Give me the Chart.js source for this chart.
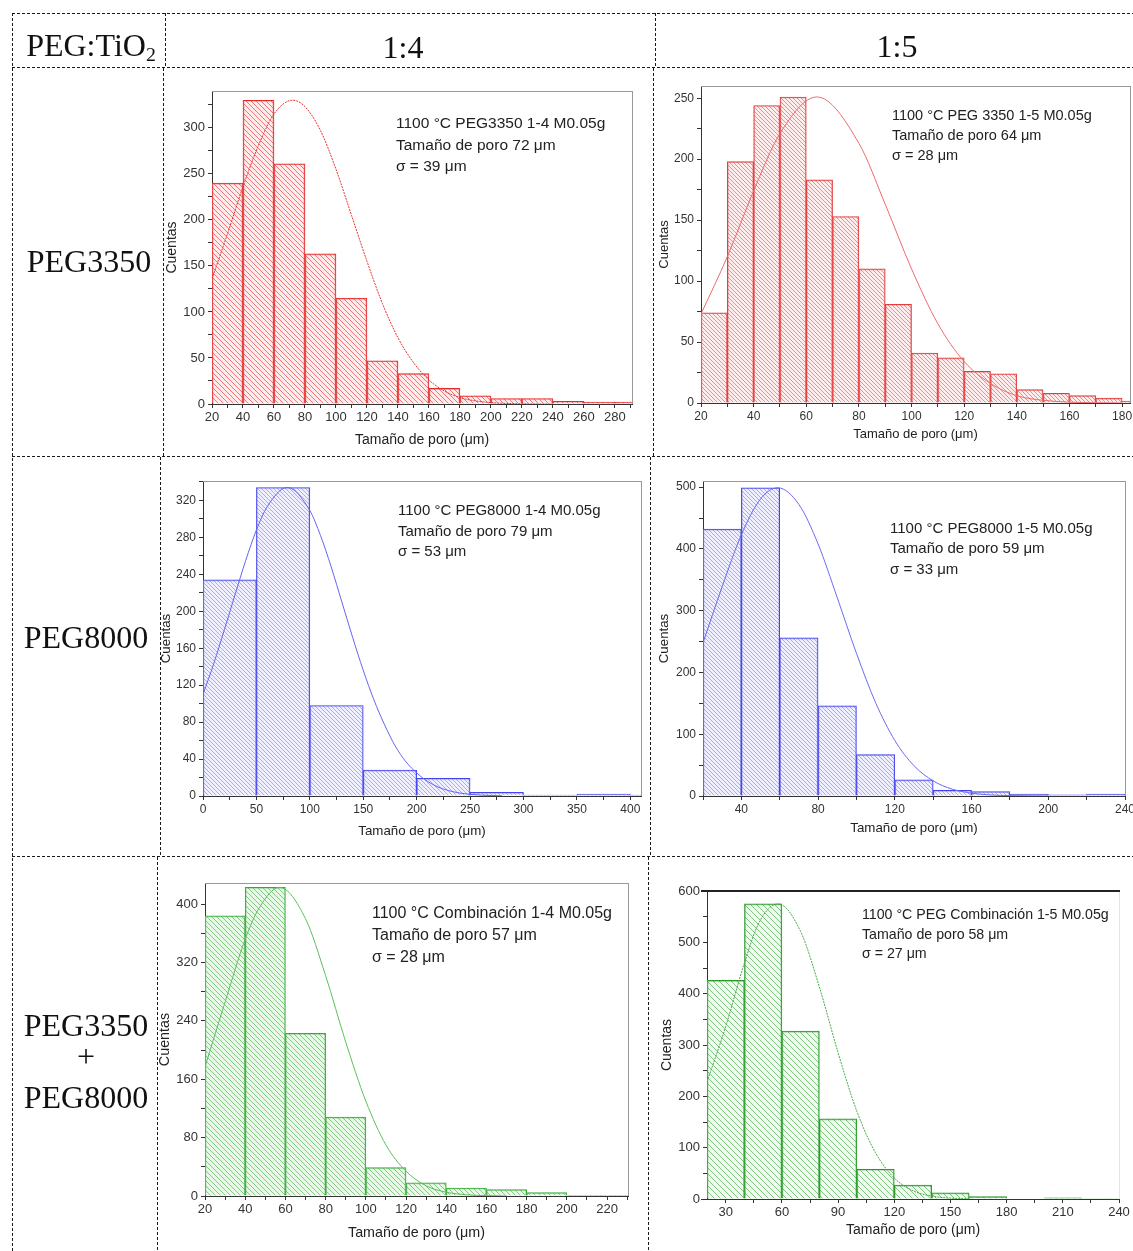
<!DOCTYPE html>
<html lang="es">
<head>
<meta charset="utf-8">
<title>Distribución de tamaño de poro</title>
<script src="https://cdn.jsdelivr.net/npm/chart.js@4.4.1/dist/chart.umd.min.js"></script>
<style>
  html, body { margin: 0; padding: 0; background: #fff; }
  #page { position: relative; width: 1133px; height: 1251px; overflow: hidden; background: #fff; }
  #grid { position: absolute; left: 0; top: 0; }
  canvas.hist { position: absolute; }
  .serif {
    position: absolute; font-family: "Liberation Serif", "DejaVu Serif", serif;
    font-size: 32px; line-height: 1; color: #111; white-space: nowrap;
    transform: translate(-50%, -50%);
  }
  .serif sub { font-size: 0.62em; vertical-align: -0.25em; line-height: 0; }
  .note { position: absolute; font-family: "Liberation Sans", Arial, sans-serif; color: #222; white-space: nowrap; }
</style>
</head>
<body>
<div id="page">
  <canvas id="grid" width="1133" height="1251"></canvas>

  <div class="serif" style="left:91px; top:45px;">PEG:TiO<sub>2</sub></div>
  <div class="serif" style="left:403px; top:47px;">1:4</div>
  <div class="serif" style="left:897px; top:46px;">1:5</div>

  <div class="serif" style="left:89px; top:261px;">PEG3350</div>
  <div class="serif" style="left:86px; top:637px;">PEG8000</div>
  <div class="serif" style="left:86px; top:1025px;">PEG3350</div>
  <div class="serif" style="left:86px; top:1056px;">+</div>
  <div class="serif" style="left:86px; top:1097px;">PEG8000</div>

  <canvas class="hist" id="c3350_14"></canvas>
  <canvas class="hist" id="c3350_15"></canvas>
  <canvas class="hist" id="c8000_14"></canvas>
  <canvas class="hist" id="c8000_15"></canvas>
  <canvas class="hist" id="cMix_14"></canvas>
  <canvas class="hist" id="cMix_15"></canvas>

  <div class="note" style="left:396px; top:112px; font-size:15.5px; line-height:21.5px;">1100 °C PEG3350 1-4 M0.05g<br>Tamaño de poro 72 μm<br>σ = 39 μm</div>
  <div class="note" style="left:892px; top:105px; font-size:14.5px; line-height:20px;">1100 °C PEG 3350 1-5 M0.05g<br>Tamaño de poro 64 μm<br>σ = 28 μm</div>
  <div class="note" style="left:398px; top:500px; font-size:15px; line-height:20.5px;">1100 °C PEG8000 1-4 M0.05g<br>Tamaño de poro 79 μm<br>σ = 53 μm</div>
  <div class="note" style="left:890px; top:518px; font-size:15px; line-height:20.3px;">1100 °C PEG8000 1-5 M0.05g<br>Tamaño de poro 59 μm<br>σ = 33 μm</div>
  <div class="note" style="left:372px; top:902px; font-size:16px; line-height:22px;">1100 °C Combinación 1-4 M0.05g<br>Tamaño de poro 57 μm<br>σ = 28 μm</div>
  <div class="note" style="left:862px; top:905px; font-size:14.2px; line-height:19.5px;">1100 °C PEG Combinación 1-5 M0.05g<br>Tamaño de poro 58 μm<br>σ = 27 μm</div>
</div>

<script>
// ---- data (bin start in µm, counts) and the fitted curves ----

// PEG3350, 1:4
const edges3350_14 = [20, 40, 60, 80, 100, 120, 140, 160, 180, 200, 220, 240, 260, 280];
const counts3350_14 = [240, 330, 261, 163, 115, 47, 33, 17, 9, 6, 6, 3, 2, 2];
const fitX3350_14 = [20, 30, 40, 50, 60, 72, 80, 90, 100, 110, 120, 130, 140, 150, 160, 170, 180, 190, 200, 210, 220, 230, 240];
const fitY3350_14 = [136, 185, 236, 281, 315, 330, 323, 297, 255, 205, 155, 109, 72, 45, 26, 14, 7, 3.4, 1.5, 0.6, 0.2, 0, 0];

// PEG3350, 1:5
const edges3350_15 = [20, 30, 40, 50, 60, 70, 80, 90, 100, 110, 120, 130, 140, 150, 160, 170, 180];
const counts3350_15 = [74, 198, 244, 251, 183, 153, 110, 81, 41, 37, 26, 24, 11, 8, 6, 4, 1.5];
const fitX3350_15 = [20, 30, 40, 50, 64, 80, 90, 100, 110, 120, 130, 140, 150, 160, 170, 180];
const fitY3350_15 = [73, 120, 174, 221, 251, 213, 163, 110, 65, 34, 16, 6, 2.2, 0.7, 0.2, 0];

// PEG8000, 1:4
const edges8000_14 = [0, 50, 100, 150, 200, 250, 300, 350, 400];
const counts8000_14 = [234, 334, 98, 28, 19, 4, 1, 2, 1];
const fitX8000_14 = [0, 10, 20, 30, 40, 50, 60, 79, 100, 110, 120, 130, 140, 150, 160, 170, 180, 190, 200, 210, 220, 230, 240, 250, 260, 270, 280];
const fitY8000_14 = [110, 143, 180, 218, 255, 288, 313, 334, 309, 282, 248, 210, 172, 136, 104, 77, 54, 37, 25, 16, 9.7, 5.8, 3.3, 1.8, 1, 0.5, 0.2];

// PEG8000, 1:5
const edges8000_15 = [20, 40, 60, 80, 100, 120, 140, 160, 180, 200, 220];
const counts8000_15 = [432, 499, 256, 146, 67, 26, 9, 7, 3, 2, 3];
const fitX8000_15 = [20, 30, 40, 50, 59, 70, 80, 90, 100, 110, 120, 130, 140, 150, 160, 170, 180, 190, 200];
const fitY8000_15 = [248, 339, 423, 481, 499, 472, 408, 321, 231, 151, 90, 49, 24.5, 11, 4.6, 1.7, 0.6, 0.2, 0];

// PEG3350 + PEG8000, 1:4
const edgesMix_14 = [20, 40, 60, 80, 100, 120, 140, 160, 180, 200, 220];
const countsMix_14 = [384, 423, 223, 108, 39, 18, 11, 8.7, 4.6, 1, 1];
const fitXMix_14 = [20, 30, 40, 47, 57, 70, 80, 90, 100, 110, 120, 130, 140, 150, 160, 170];
const fitYMix_14 = [177, 266, 352, 395, 423, 380, 302, 211, 130, 70, 34, 14, 5.2, 1.7, 0.5, 0];

// PEG3350 + PEG8000, 1:5
const edgesMix_15 = [20, 40, 60, 80, 100, 120, 140, 160, 180, 200, 220];
const countsMix_15 = [426, 575, 327, 156, 58, 27, 12, 4.5, 0, 2.5, 1];
const fitXMix_15 = [20, 30, 40, 48, 58, 70, 80, 90, 100, 110, 120, 130, 140, 150, 160];
const fitYMix_15 = [228, 336, 460, 540, 575, 521, 413, 285, 171, 90, 41, 16, 5.7, 1.7, 0.5];

const X_TITLE = 'Tamaño de poro (μm)';
const Y_TITLE = 'Cuentas';

// ---- layout / style per panel ----
const PAD_T = 12, PAD_R = 16;

const panels = [
  { id: 'c3350_14', edges: edges3350_14, bin: 20, counts: counts3350_14, fitX: fitX3350_14, fitY: fitY3350_14,
    xr: [20, 291], xMajor: 20, xMinor: 10, yr: [0, 340], yMajor: 50, yMinor: 25,
    plot: [212, 91, 632, 404], yOff: 40, xOff: 37, tick: 13, title: 14,
    edge: '#e22a2a', lines: 'rgba(232,50,50,0.62)', bg: 'rgba(255,222,222,0.6)', hs: 5,
    curve: '#e53030', dash: [2, 1], top: ['#999', 1], right: '#999' },
  { id: 'c3350_15', edges: edges3350_15, bin: 10, counts: counts3350_15, fitX: fitX3350_15, fitY: fitY3350_15,
    xr: [20, 183], xMajor: 20, xMinor: 10, yr: [0, 260], yMajor: 50, yMinor: 25,
    plot: [701, 86, 1130, 403], yOff: 36, xOff: 31, tick: 12, title: 13,
    edge: '#e63c3c', lines: 'rgba(235,70,70,0.58)', bg: 'rgba(255,225,225,0.6)', hs: 4,
    curve: '#f06a6a', dash: [], top: ['#999', 1], right: '#999' },
  { id: 'c8000_14', edges: edges8000_14, bin: 50, counts: counts8000_14, fitX: fitX8000_14, fitY: fitY8000_14,
    xr: [0, 410], xMajor: 50, xMinor: 25, yr: [0, 341], yMajor: 40, yMinor: 20,
    plot: [203, 481, 641, 796], yOff: 37, xOff: 35, tick: 12, title: 13.3,
    edge: '#4444f0', lines: 'rgba(95,95,245,0.48)', bg: 'rgba(232,232,255,0.7)', hs: 4,
    curve: '#6464f5', dash: [], top: ['#999', 1], right: '#999' },
  { id: 'c8000_15', edges: edges8000_15, bin: 20, counts: counts8000_15, fitX: fitX8000_15, fitY: fitY8000_15,
    xr: [20, 240], xMajor: 40, xMinor: 20, yr: [0, 510], yMajor: 100, yMinor: 50,
    plot: [703, 481, 1125, 796], yOff: 39, xOff: 32, tick: 12, title: 13.3,
    edge: '#4040ee', lines: 'rgba(90,90,245,0.48)', bg: 'rgba(232,232,255,0.7)', hs: 4,
    curve: '#6a6af5', dash: [], top: ['#999', 1], right: '#999' },
  { id: 'cMix_14', edges: edgesMix_14, bin: 20, counts: countsMix_14, fitX: fitXMix_14, fitY: fitYMix_14,
    xr: [20, 230.4], xMajor: 20, xMinor: 10, yr: [0, 429], yMajor: 80, yMinor: 40,
    plot: [205, 883, 628, 1196], yOff: 40, xOff: 37, tick: 13, title: 14.3,
    edge: '#35ac35', lines: 'rgba(60,175,60,0.6)', bg: 'rgba(222,245,222,0.65)', hs: 5,
    curve: '#5cc05c', dash: [], top: ['#999', 1], right: '#999' },
  { id: 'cMix_15', edges: edgesMix_15, bin: 20, counts: countsMix_15, fitX: fitXMix_15, fitY: fitYMix_15,
    xr: [20, 240], xMajor: 30, xMinor: 15, yr: [0, 600], yMajor: 100, yMinor: 50,
    plot: [707, 891, 1119, 1199], yOff: 40, xOff: 32, tick: 13, title: 14,
    edge: '#279a27', lines: 'rgba(50,160,50,0.6)', bg: 'rgba(228,246,228,0.55)', hs: 6,
    curve: '#45a845', dash: [2, 1], top: ['#222', 2], right: '#e4e4e4', extend: 6 }
];

Chart.defaults.font.family = '"Liberation Sans", Arial, sans-serif';
Chart.defaults.color = '#333';

// diagonal "\" hatch used for the bar fill
function hatch(line, fill, size) {
  const c = document.createElement('canvas');
  c.width = size;
  c.height = size;
  const g = c.getContext('2d');
  g.fillStyle = fill;
  g.fillRect(0, 0, size, size);
  g.strokeStyle = line;
  g.lineWidth = 1;
  g.beginPath();
  [-size, 0, size].forEach(k => {
    g.moveTo(k, 0);
    g.lineTo(k + size, size);
  });
  g.stroke();
  return g.createPattern(c, 'repeat');
}

// top / right edges of the plot frame
const framePlugin = {
  id: 'frame',
  afterDatasetsDraw(chart, args, opts) {
    const { ctx, chartArea: a } = chart;
    ctx.save();
    ctx.setLineDash([]);
    ctx.strokeStyle = opts.right;
    ctx.lineWidth = 1;
    ctx.beginPath();
    ctx.moveTo(a.right + 0.5, a.top);
    ctx.lineTo(a.right + 0.5, a.bottom);
    ctx.stroke();
    ctx.strokeStyle = opts.top[0];
    ctx.lineWidth = opts.top[1];
    const ty = opts.top[1] === 2 ? a.top : a.top + 0.5;
    ctx.beginPath();
    ctx.moveTo(a.left - (opts.extend || 0), ty);
    ctx.lineTo(a.right + 1, ty);
    ctx.stroke();
    if (opts.extend) {
      // x axis line runs a little past the y axis
      ctx.strokeStyle = '#333';
      ctx.lineWidth = 1;
      ctx.beginPath();
      ctx.moveTo(a.left - opts.extend, a.bottom + 0.5);
      ctx.lineTo(a.left, a.bottom + 0.5);
      ctx.stroke();
    }
    ctx.restore();
  }
};

function drawTable() {
  const g = document.getElementById('grid').getContext('2d');
  g.strokeStyle = '#1a1a1a';
  g.lineWidth = 1;
  g.setLineDash([3, 2]);
  const seg = (x0, y0, x1, y1) => {
    g.beginPath();
    g.moveTo(x0, y0);
    g.lineTo(x1, y1);
    g.stroke();
  };
  // horizontal rules
  [13.5, 67.5, 456.5, 856.5].forEach(y => seg(12, y, 1133, y));
  // outer left edge
  seg(12.5, 13, 12.5, 1251);
  // column separators, slightly drifting per row as in the scan
  const left = [[165.5, 13, 68], [163.5, 68, 457], [160.5, 457, 857], [157.5, 857, 1251]];
  const mid = [[655.5, 13, 68], [653.5, 68, 457], [650.5, 457, 857], [648.5, 857, 1251]];
  left.concat(mid).forEach(([x, y0, y1]) => seg(x, y0, x, y1));
}

function buildPanel(p) {
  const [l, t, r, b] = p.plot;
  const W = Math.round(p.yOff + p.title * 0.6);
  const H = Math.round(p.xOff + p.title * 0.6);
  const canvas = document.getElementById(p.id);
  canvas.width = (r - l) + W + PAD_R;
  canvas.height = (b - t) + PAD_T + H;
  canvas.style.left = (l - W) + 'px';
  canvas.style.top = (t - PAD_T) + 'px';

  const pxPerUnit = (r - l) / (p.xr[1] - p.xr[0]);
  const bars = p.edges.map((e, i) => ({ x: e + p.bin / 2, y: p.counts[i] }));
  const fit = p.fitX.map((x, i) => ({ x, y: p.fitY[i] }));

  const tickOpts = (size) => ({
    autoSkip: false, maxRotation: 0, minRotation: 0, includeBounds: false,
    color: '#333', font: { size }
  });

  new Chart(canvas, {
    type: 'bar',
    data: {
      datasets: [
        {
          type: 'line', data: fit, borderColor: p.curve, borderWidth: 1, borderDash: p.dash,
          pointRadius: 0, cubicInterpolationMode: 'monotone', fill: false, clip: 0, order: 0
        },
        {
          type: 'bar', data: bars, backgroundColor: hatch(p.lines, p.bg, p.hs),
          borderColor: p.edge, borderWidth: 1, barThickness: p.bin * pxPerUnit,
          clip: 0, order: 1
        }
      ]
    },
    options: {
      responsive: false,
      animation: false,
      events: [],
      layout: { padding: { left: 0, top: PAD_T, right: PAD_R, bottom: 0 } },
      plugins: {
        legend: { display: false },
        tooltip: { enabled: false },
        frame: { top: p.top, right: p.right, extend: p.extend || 0 }
      },
      scales: {
        x: {
          type: 'linear', min: p.xr[0], max: p.xr[1], offset: false,
          afterFit: s => { s.height = H; },
          grid: { display: true, offset: false, drawOnChartArea: false, drawTicks: true, tickLength: 4, tickColor: '#333' },
          border: { display: true, color: '#333', width: 1 },
          ticks: Object.assign(tickOpts(p.tick), {
            stepSize: p.xMinor, padding: 2,
            callback: v => (v % p.xMajor === 0 ? String(v) : '')
          }),
          title: { display: true, text: X_TITLE, color: '#222', font: { size: p.title, lineHeight: 1.2 }, padding: 0 }
        },
        y: {
          type: 'linear', min: p.yr[0], max: p.yr[1],
          afterFit: s => { s.width = W; },
          grid: { display: true, drawOnChartArea: false, drawTicks: true, tickLength: 4, tickColor: '#333' },
          border: { display: true, color: '#333', width: 1 },
          ticks: Object.assign(tickOpts(p.tick), {
            stepSize: p.yMinor, padding: 3,
            callback: v => (v % p.yMajor === 0 ? String(v) : '')
          }),
          title: { display: true, text: Y_TITLE, color: '#222', font: { size: p.title, lineHeight: 1.2 }, padding: 0 }
        }
      }
    },
    plugins: [framePlugin]
  });
}

drawTable();
panels.forEach(buildPanel);
</script>
</body>
</html>
